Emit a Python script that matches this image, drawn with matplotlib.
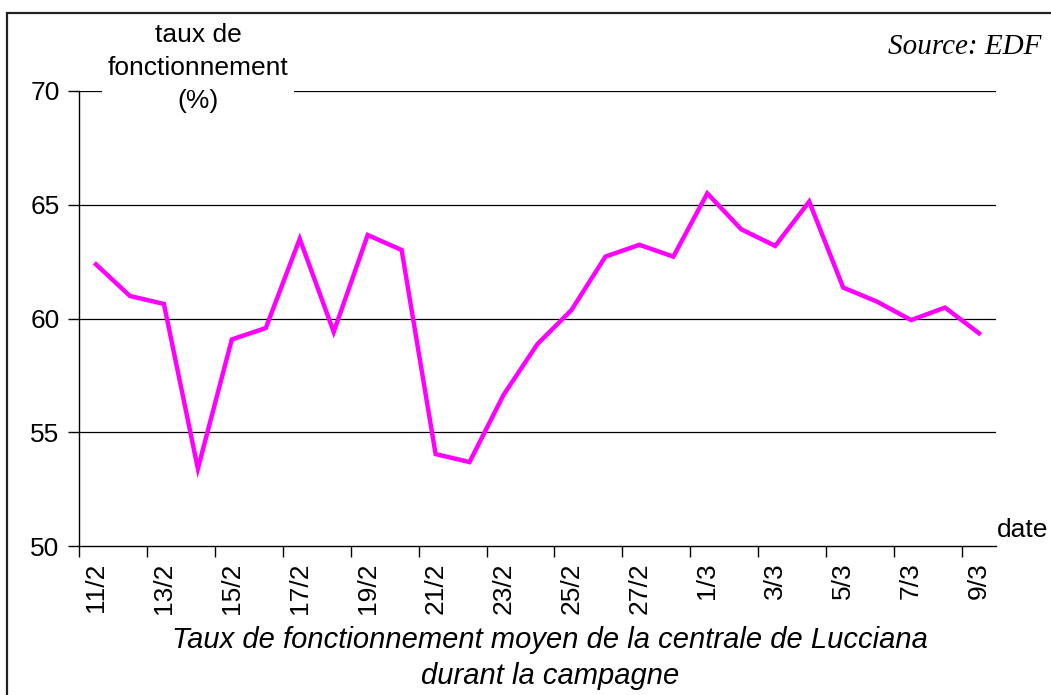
import matplotlib
matplotlib.use("Agg")
import matplotlib.pyplot as plt
from matplotlib.patches import Rectangle

dates = ["11/2", "12/2", "13/2", "14/2", "15/2", "16/2", "17/2", "18/2", "19/2",
         "20/2", "21/2", "22/2", "23/2", "24/2", "25/2", "26/2", "27/2", "28/2",
         "1/3", "2/3", "3/3", "4/3", "5/3", "6/3", "7/3", "8/3", "9/3"]
taux = [62.38, 60.99, 60.64, 53.40, 59.08, 59.58, 63.50, 59.41, 63.67,
        63.01, 54.04, 53.69, 56.64, 58.88, 60.37, 62.72, 63.24, 62.72,
        65.50, 63.92, 63.19, 65.14, 61.36, 60.74, 59.93, 60.48, 59.35]
y_ticks = [50, 55, 60, 65, 70]

plt.rcParams['font.family'] = ['Liberation Sans', 'DejaVu Sans']

W, H = 1051, 695
fig = plt.figure(figsize=(W / 100, H / 100), dpi=100)
ax = fig.add_axes([79 / W, 1 - 546 / H, (996 - 79) / W, (546 - 91) / H])

x = list(range(len(dates)))
ax.plot(x, taux, color='#FF00FF', lw=3.2, solid_joinstyle='miter', zorder=3)

ax.set_xlim(-0.5, len(dates) - 0.5)
ax.set_ylim(50, 70)
ax.set_yticks(y_ticks)
ax.set_yticklabels([str(v) for v in y_ticks], fontsize=19)
for v in y_ticks[1:]:
    ax.axhline(v, color='black', lw=0.9, zorder=1)

# major ticks at category boundaries (every 2), labels at minor ticks
ax.set_xticks([i - 0.5 for i in range(0, len(dates), 2)])
ax.set_xticklabels([])
ax.set_xticks(x[::2], minor=True)
ax.set_xticklabels(dates[::2], minor=True, rotation=90, fontsize=19)
ax.tick_params(axis='x', which='major', length=8, width=1, direction='out')
ax.tick_params(axis='x', which='minor', length=0, pad=12)
ax.tick_params(axis='y', length=8, width=1, direction='out', pad=6)

for s in ['top', 'right']:
    ax.spines[s].set_visible(False)
for s in ['left', 'bottom']:
    ax.spines[s].set_linewidth(1)
    ax.spines[s].set_color('black')

# y-axis title above axis with white background
fig.text(198 / W, 1 - 68 / H, "taux de\nfonctionnement\n(%)", ha='center', va='center',
         fontsize=19, linespacing=1.45,
         bbox=dict(facecolor='white', edgecolor='none', pad=4), zorder=5)

fig.text(997 / W, 1 - 530 / H, "date", ha='left', va='center', fontsize=19)

fig.text(1041 / W, 1 - 47 / H, "Source: EDF", ha='right', va='center', fontsize=21,
         family=['Liberation Serif', 'DejaVu Serif'], style='italic')

fig.text(550 / W, 1 - 658 / H, "Taux de fonctionnement moyen de la centrale de Lucciana\ndurant la campagne",
         ha='center', va='center', fontsize=21, style='italic', linespacing=1.35)

# outer frame (left and top edges visible)
fig.add_artist(Rectangle((7 / W, -0.1), 1.2, 1 - 13 / H + 0.1, transform=fig.transFigure,
                         fill=False, edgecolor='#222222', lw=1.6, clip_on=False))

fig.savefig("out.png", dpi=100, facecolor='white')
